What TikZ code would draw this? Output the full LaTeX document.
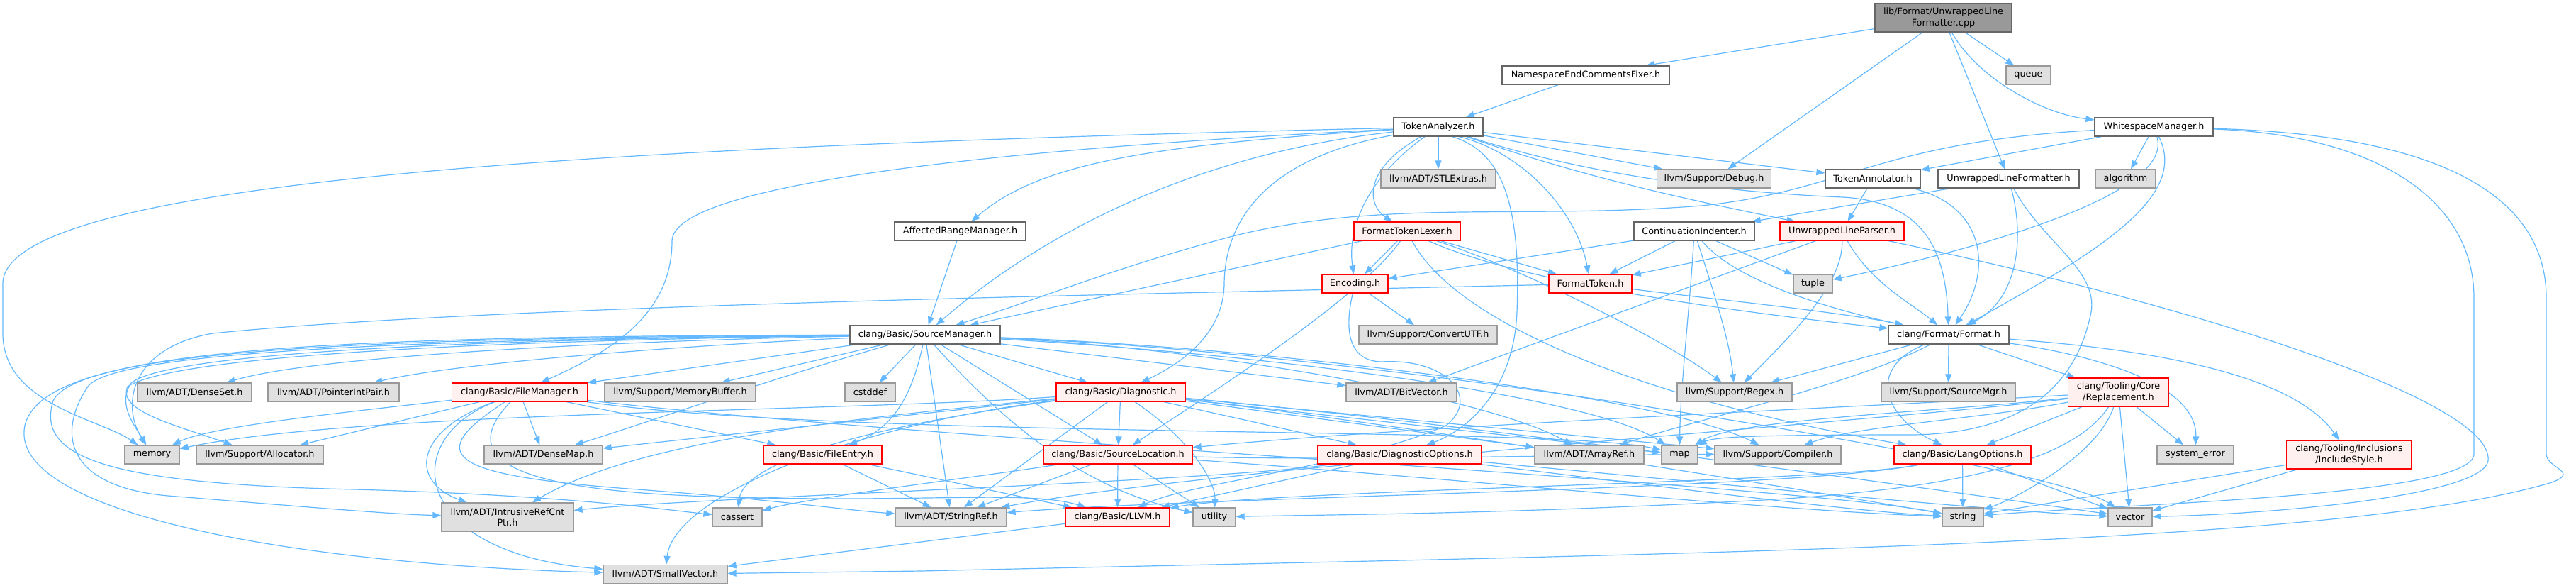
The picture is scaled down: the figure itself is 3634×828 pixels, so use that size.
\documentclass[tikz,border=0pt]{standalone}
\usepackage{fontspec}
\usetikzlibrary{arrows.meta}
\newfontfamily\dvs{DejaVu Sans}
\definecolor{edgec}{HTML}{63B8FF}
\definecolor{bdark}{HTML}{666666}
\definecolor{bgray}{HTML}{999999}
\definecolor{fgray}{HTML}{E0E0E0}
\definecolor{fred}{HTML}{FFF0F0}
\definecolor{bred}{HTML}{FF0000}
\pgfdeclarelayer{bg}
\pgfsetlayers{bg,main}
\tikzset{
  nb/.style={draw, rectangle, inner sep=0pt, minimum height=26pt, line width=1.3pt, align=center,
    font=\dvs\fontsize{12.8}{15.5}\selectfont, text=black},
  wbox/.style={nb, draw=bdark, fill=white},
  gbox/.style={nb, draw=bgray, fill=fgray},
  rbox/.style={nb, draw=bred, fill=fred},
  cbox/.style={nb, draw=bdark, fill=bgray},
  e/.style={draw=edgec, line width=1.2pt, -{Triangle[length=12pt,width=9pt]}},
}
\begin{document}
\begin{tikzpicture}[x=1pt,y=-1pt]
\useasboundingbox (0,0) rectangle (3634,828);
% nodes
\node[cbox, minimum width=193pt, minimum height=40pt] (cpp) at (2741.5,25) {lib/Format/UnwrappedLine\\Formatter.cpp};
\node[wbox, minimum width=236pt] (nsfix) at (2237,106) {NamespaceEndCommentsFixer.h};
\node[gbox, minimum width=63pt] (queue) at (2861.5,106) {queue};
\node[wbox, minimum width=126pt] (tokan) at (2029,179) {TokenAnalyzer.h};
\node[wbox, minimum width=167pt] (wsm) at (3038.5,179) {WhitespaceManager.h};
\node[gbox, minimum width=162pt] (stl) at (2029,252) {llvm/ADT/STLExtras.h};
\node[gbox, minimum width=161pt] (debug) at (2418,252) {llvm/Support/Debug.h};
\node[wbox, minimum width=134pt] (tokann) at (2642,252) {TokenAnnotator.h};
\node[wbox, minimum width=199pt] (uwlfh) at (2833.5,252) {UnwrappedLineFormatter.h};
\node[gbox, minimum width=85pt] (algo) at (2998.5,252) {algorithm};
\node[wbox, minimum width=185pt] (arm) at (1354.5,326) {AffectedRangeManager.h};
\node[rbox, minimum width=150pt] (ftl) at (1985,326) {FormatTokenLexer.h};
\node[wbox, minimum width=170pt] (ci) at (2390,326) {ContinuationIndenter.h};
\node[rbox, minimum width=175pt] (uwlp) at (2598.5,326) {UnwrappedLineParser.h};
\node[rbox, minimum width=93pt] (enc) at (1911.5,400) {Encoding.h};
\node[rbox, minimum width=117pt] (ftok) at (2243.5,400) {FormatToken.h};
\node[gbox, minimum width=55pt] (tuple) at (2557.5,400) {tuple};
\node[wbox, minimum width=212pt] (sm) at (1305,472) {clang/Basic/SourceManager.h};
\node[gbox, minimum width=195pt] (cutf) at (2014.5,472) {llvm/Support/ConvertUTF.h};
\node[wbox, minimum width=170pt] (fmt) at (2749,472) {clang/Format/Format.h};
\node[gbox, minimum width=161pt] (dset) at (274.5,553) {llvm/ADT/DenseSet.h};
\node[gbox, minimum width=185pt] (pip) at (470.5,553) {llvm/ADT/PointerIntPair.h};
\node[rbox, minimum width=191pt] (fm) at (733,553) {clang/Basic/FileManager.h};
\node[gbox, minimum width=213pt] (mbuf) at (959.5,553) {llvm/Support/MemoryBuffer.h};
\node[gbox, minimum width=71pt] (cstddef) at (1227.5,553) {cstddef};
\node[rbox, minimum width=182pt] (diag) at (1581,553) {clang/Basic/Diagnostic.h};
\node[gbox, minimum width=156pt] (bitv) at (1977,553) {llvm/ADT/BitVector.h};
\node[gbox, minimum width=162pt] (regex) at (2447,553) {llvm/Support/Regex.h};
\node[gbox, minimum width=189pt] (smgr) at (2748.5,553) {llvm/Support/SourceMgr.h};
\node[rbox, minimum width=142pt, minimum height=40pt] (repl) at (2988.5,553) {clang/Tooling/Core\\/Replacement.h};
\node[gbox, minimum width=77pt] (memory) at (214.5,641) {memory};
\node[gbox, minimum width=179pt] (alloc) at (366.5,641) {llvm/Support/Allocator.h};
\node[gbox, minimum width=167pt] (dmap) at (766.5,641) {llvm/ADT/DenseMap.h};
\node[rbox, minimum width=167pt] (fentry) at (1160.5,641) {clang/Basic/FileEntry.h};
\node[rbox, minimum width=210pt] (sloc) at (1577,641) {clang/Basic/SourceLocation.h};
\node[rbox, minimum width=231pt] (dopt) at (1974.5,641) {clang/Basic/DiagnosticOptions.h};
\node[gbox, minimum width=154pt] (aref) at (2242,641) {llvm/ADT/ArrayRef.h};
\node[gbox, minimum width=51pt] (map) at (2369.5,641) {map};
\node[gbox, minimum width=178pt] (compiler) at (2508,641) {llvm/Support/Compiler.h};
\node[rbox, minimum width=193pt] (langopt) at (2768.5,641) {clang/Basic/LangOptions.h};
\node[gbox, minimum width=108pt] (syserr) at (3097,641) {system\_error};
\node[rbox, minimum width=176pt, minimum height=40pt] (incl) at (3314,641) {clang/Tooling/Inclusions\\/IncludeStyle.h};
\node[gbox, minimum width=186pt, minimum height=40pt] (irc) at (716,729) {llvm/ADT/IntrusiveRefCnt\\Ptr.h};
\node[gbox, minimum width=70pt] (cassert) at (1040,729) {cassert};
\node[gbox, minimum width=157pt] (sref) at (1341.5,729) {llvm/ADT/StringRef.h};
\node[rbox, minimum width=147pt] (llvmh) at (1576.5,729) {clang/Basic/LLVM.h};
\node[gbox, minimum width=60pt] (utility) at (1713,729) {utility};
\node[gbox, minimum width=58pt] (string) at (2769,729) {string};
\node[gbox, minimum width=62pt] (vector) at (3005,729) {vector};
\node[gbox, minimum width=175pt] (svec) at (938.5,809.5) {llvm/ADT/SmallVector.h};

\begin{pgfonlayer}{bg}
% top file
\draw[e] (cpp) -- (nsfix);
\draw[e] (cpp) -- (debug);
\draw[e] (cpp) -- (uwlfh);
\draw[e] (cpp) -- (queue);
\draw[e] (cpp) .. controls (2790,110) and (2880,160) .. (wsm);
\draw[e] (nsfix) -- (tokan);
% TokenAnalyzer
\draw[e] (tokan) .. controls (900,205) and (4,250) .. (4,400) -- (4,470) .. controls (4,570) and (140,590) .. (memory);
\draw[e] (tokan) .. controls (1400,210) and (948,260) .. (948,340) .. controls (948,450) and (850,500) .. (fm);
\draw[e] (tokan) .. controls (1600,205) and (1460,235) .. (arm);
\draw[e] (tokan) .. controls (1700,215) and (1480,320) .. (sm);
\draw[e] (tokan) .. controls (1800,220) and (1728,300) .. (1727,400) .. controls (1726,480) and (1650,520) .. (diag);
\draw[e] (tokan) .. controls (1930,250) and (1900,320) .. (enc);
\draw[e] (tokan) .. controls (1920,240) and (1930,290) .. (ftl);
\draw[e] (tokan) -- (stl);
\draw[e] (tokan.-35) .. controls (2125,215) and (2145,300) .. (2140,440) .. controls (2135,560) and (2060,610) .. (dopt);
\draw[e] (tokan.-25) .. controls (2150,215) and (2225,300) .. (ftok);
\draw[e] (tokan) -- (debug);
\draw[e] (tokan) .. controls (2250,250) and (2450,272) .. (2600,278) .. controls (2720,285) and (2745,360) .. (fmt);
\draw[e] (tokan) .. controls (2250,255) and (2400,285) .. (uwlp);
\draw[e] (tokan) -- (tokann);
% WhitespaceManager
\draw[e] (wsm) -- (tokann);
\draw[e] (wsm) -- (algo);
\draw[e] (wsm) .. controls (3070,280) and (2750,360) .. (tuple);
\draw[e] (wsm) .. controls (3090,280) and (2950,360) .. (fmt);
\draw[e] (wsm) .. controls (2650,200) and (2600,270) .. (2400,290) .. controls (2150,310) and (1950,280) .. (1739,333) .. controls (1580,375) and (1470,420) .. (sm);
\draw[e] (wsm) .. controls (3350,190) and (3490,280) .. (3490,420) -- (3490,640) .. controls (3490,700) and (3000,710) .. (string);
\draw[e] (wsm) .. controls (3450,190) and (3592,280) .. (3592,420) -- (3592,640) .. controls (3592,660) and (3640,665) .. (3600,680) .. controls (3300,770) and (2400,780) .. (1300,805) -- (svec);
% TokenAnnotator, UnwrappedLineFormatter.h
\draw[e] (tokann) -- (uwlp);
\draw[e] (tokann) .. controls (2800,290) and (2812,380) .. (fmt);
\draw[e] (uwlfh) -- (ci);
\draw[e] (uwlfh) .. controls (2855,330) and (2850,420) .. (fmt);
\draw[e] (uwlfh) .. controls (2880,340) and (2960,380) .. (2950,440) .. controls (2930,540) and (2860,610) .. (2700,613) .. controls (2500,613) and (2420,615) .. (map);
% ContinuationIndenter
\draw[e] (ci) -- (enc);
\draw[e] (ci) -- (ftok);
\draw[e] (ci) .. controls (2385,420) and (2370,550) .. (map);
\draw[e] (ci) .. controls (2420,420) and (2440,480) .. (regex);
\draw[e] (ci) .. controls (2450,400) and (2600,440) .. (fmt);
\draw[e] (ci) -- (tuple);
% UnwrappedLineParser
\draw[e] (uwlp) -- (ftok);
\draw[e] (uwlp) -- (bitv);
\draw[e] (uwlp) .. controls (2600,400) and (2530,470) .. (regex);
\draw[e] (uwlp) .. controls (2640,400) and (2700,430) .. (fmt);
\draw[e] (uwlp) .. controls (3050,420) and (3520,560) .. (3510,650) .. controls (3500,700) and (3200,725) .. (vector);
% FormatTokenLexer
\draw[e] (ftl) -- (enc);
\draw[e] (ftl) -- (ftok);
\draw[e] (ftl) -- (sm);
\draw[e] (ftl) .. controls (2150,400) and (2450,440) .. (fmt);
\draw[e] (ftl) .. controls (2050,450) and (2300,560) .. (langopt);
\draw[e] (ftl) .. controls (1920,420) and (1700,560) .. (sloc);
\draw[e] (ftl) .. controls (2150,380) and (2350,480) .. (regex);
% Encoding, FormatToken, AffectedRangeManager
\draw[e] (enc) -- (cutf);
\draw[e] (enc) .. controls (1895,470) and (1905,510) .. (1950,510) .. controls (2040,505) and (2090,560) .. (2040,600) .. controls (1900,660) and (1680,680) .. (llvmh);
\draw[e] (ftok) .. controls (2400,420) and (2600,440) .. (fmt);
\draw[e] (ftok) .. controls (1600,415) and (700,430) .. (300,470) .. controls (185,490) and (170,570) .. (memory);
\draw[e] (arm) -- (sm);
% Format.h
\draw[e] (fmt) -- (regex);
\draw[e] (fmt) -- (smgr);
\draw[e] (fmt) -- (repl);
\draw[e] (fmt) .. controls (2630,520) and (2660,590) .. (langopt);
\draw[e] (fmt) .. controls (2620,540) and (2400,590) .. (aref);
\draw[e] (fmt) .. controls (2950,500) and (3100,540) .. (syserr);
\draw[e] (fmt) .. controls (3000,490) and (3230,520) .. (incl);
% Replacement
\draw[e] (repl) -- (langopt);
\draw[e] (repl) .. controls (2960,640) and (2850,700) .. (string);
\draw[e] (repl) -- (vector);
\draw[e] (repl) -- (syserr);
\draw[e] (repl) .. controls (2800,590) and (2620,600) .. (compiler);
\draw[e] (repl) .. controls (2750,580) and (2450,590) .. (map);
\draw[e] (repl) .. controls (2600,575) and (2000,600) .. (sloc);
\draw[e] (repl) .. controls (2930,640) and (2800,690) .. (2450,707) .. controls (2100,725) and (1900,725) .. (utility);
\draw[e] (repl) .. controls (2700,590) and (1700,660) .. (sref);
% IncludeStyle, LangOptions
\draw[e] (incl) -- (string);
\draw[e] (incl) -- (vector);
\draw[e] (langopt) -- (string);
\draw[e] (langopt) -- (vector);
\draw[e] (langopt) .. controls (2600,680) and (1800,690) .. (llvmh);
\draw[e] (langopt) .. controls (2550,690) and (1700,700) .. (sref);
% SourceManager
\draw[e] (sm) .. controls (900,480) and (450,500) .. (dset);
\draw[e] (sm) .. controls (1000,485) and (650,510) .. (pip);
\draw[e] (sm) -- (fm);
\draw[e] (sm) -- (mbuf);
\draw[e] (sm) -- (cstddef);
\draw[e] (sm) -- (diag);
\draw[e] (sm) -- (bitv);
\draw[e] (sm) .. controls (1290,540) and (1270,600) .. (fentry);
\draw[e] (sm) -- (sloc);
\draw[e] (sm) -- (sref);
\draw[e] (sm) .. controls (1100,530) and (900,600) .. (dmap);
\draw[e] (sm) .. controls (700,478) and (240,495) .. (185,540) .. controls (165,570) and (190,600) .. (memory);
\draw[e] (sm) .. controls (700,480) and (250,500) .. (180,545) .. controls (165,580) and (250,600) .. (alloc);
\draw[e] (sm) .. controls (600,478) and (160,495) .. (124,545) .. controls (80,610) and (90,690) .. (250,700) .. controls (400,712) and (550,725) .. (irc);
\draw[e] (sm) .. controls (500,476) and (110,495) .. (75,565) .. controls (50,645) and (150,682) .. (500,690) .. controls (800,698) and (950,720) .. (cassert);
\draw[e] (sm) .. controls (400,474) and (60,495) .. (35,600) .. controls (10,720) and (400,795) .. (svec);
\draw[e] (sm) .. controls (1700,490) and (2100,560) .. (aref);
\draw[e] (sm) .. controls (1800,490) and (2350,560) .. (compiler);
\draw[e] (sm) .. controls (1800,500) and (2250,560) .. (map);
\draw[e] (sm) .. controls (1420,600) and (1530,690) .. (utility);
\draw[e] (sm) .. controls (2000,500) and (2900,660) .. (vector);
% Diagnostic
\draw[e] (diag) -- (dopt);
\draw[e] (diag) -- (sloc);
\draw[e] (diag) -- (aref);
\draw[e] (diag) -- (map);
\draw[e] (diag) -- (compiler);
\draw[e] (diag) .. controls (2000,600) and (2600,700) .. (string);
\draw[e] (diag) .. controls (2100,600) and (2800,700) .. (vector);
\draw[e] (diag) .. controls (1680,620) and (1715,680) .. (utility);
\draw[e] (diag) -- (sref);
\draw[e] (diag) .. controls (1200,580) and (500,580) .. (memory);
\draw[e] (diag) -- (dmap);
\draw[e] (diag) .. controls (1200,590) and (900,620) .. (irc);
\draw[e] (diag) .. controls (1200,600) and (950,700) .. (svec);
\draw[e] (diag) .. controls (1300,590) and (1050,640) .. (cassert);
% FileManager
\draw[e] (fm) .. controls (500,580) and (300,600) .. (memory);
\draw[e] (fm) -- (alloc);
\draw[e] (fm) -- (dmap);
\draw[e] (fm) -- (fentry);
\draw[e] (fm) .. controls (580,610) and (580,680) .. (irc);
\draw[e] (fm) .. controls (560,620) and (580,780) .. (svec);
\draw[e] (fm) .. controls (600,640) and (620,670) .. (900,690) .. controls (1100,705) and (1200,720) .. (sref);
\draw[e] (fm) .. controls (650,640) and (700,690) .. (1000,700) ..  controls (1300,710) and (1450,690) .. (llvmh);
\draw[e] (fm) .. controls (1200,620) and (2200,600) .. (map);
\draw[e] (fm) .. controls (1300,620) and (2500,680) .. (string);
% FileEntry, SourceLocation, DiagnosticOptions, LLVM.h
\draw[e] (fentry) -- (sref);
\draw[e] (fentry) -- (llvmh);
\draw[e] (sloc) -- (llvmh);
\draw[e] (sloc) -- (sref);
\draw[e] (sloc) -- (utility);
\draw[e] (sloc) .. controls (1400,670) and (1150,700) .. (cassert);
\draw[e] (sloc) .. controls (1900,650) and (2300,640) .. (compiler);
\draw[e] (sloc) .. controls (2000,670) and (2500,720) .. (string);
\draw[e] (dopt) -- (llvmh);
\draw[e] (dopt) .. controls (1700,680) and (1000,700) .. (irc);
\draw[e] (dopt) .. controls (2300,680) and (2600,720) .. (string);
\draw[e] (dopt) .. controls (2300,670) and (2800,720) .. (vector);
\draw[e] (llvmh) -- (svec);
\end{pgfonlayer}
\end{tikzpicture}
\end{document}
